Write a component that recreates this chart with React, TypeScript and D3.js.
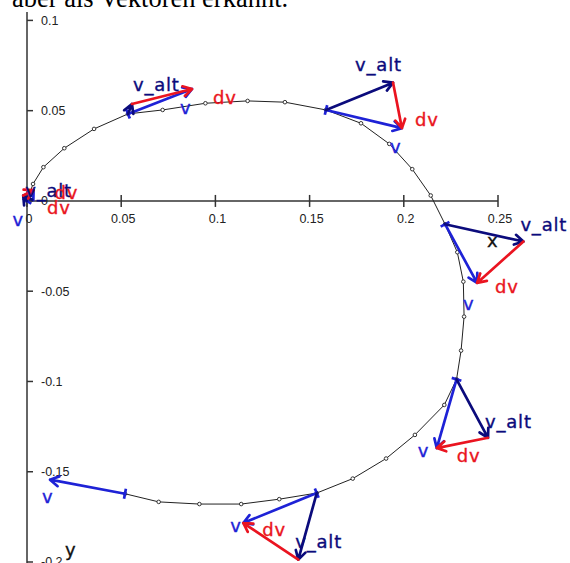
import React from "react";
import * as d3 from "d3";

const W = 570;
const H = 563;

// Sampled positions of the moving point (x, y)
const pathX = [
  0, 0.0032, 0.0087, 0.0198, 0.0356, 0.0536, 0.072, 0.0947, 0.1171, 0.1369,
  0.1587, 0.1773, 0.1923, 0.2045, 0.2143, 0.2219, 0.2284, 0.2316, 0.232, 0.2304,
  0.228, 0.2215, 0.2059, 0.1906, 0.1729, 0.1538, 0.1339, 0.1137, 0.0915, 0.0699,
  0.052,
];
const pathY = [
  0, 0.0094, 0.0187, 0.0292, 0.0399, 0.0482, 0.0504, 0.0541, 0.0554, 0.0547,
  0.0504, 0.043, 0.0316, 0.0176, 0.003, -0.0129, -0.0284, -0.0447, -0.0641, -0.0829,
  -0.0988, -0.113, -0.1296, -0.1427, -0.1538, -0.1618, -0.1652, -0.1679, -0.1679, -0.1667,
  -0.1622,
];

// Points where the velocity vectors are shown
const vectorIndex = [0, 5, 10, 15, 20, 25, 30];
// current velocity v
const vX = [0.0035, 0.034, 0.0403, 0.017, -0.0105, -0.039, -0.0398];
const vY = [0.006, 0.0138, -0.0101, -0.0325, -0.0381, -0.0166, 0.0078];
// previous velocity v_alt (none at the last point)
const vAltX: (number | null)[] = [-0.002, 0.0021, 0.0356, 0.0416, 0.0167, -0.0098, null];
const vAltY: (number | null)[] = [0.003, 0.0055, 0.0151, -0.0096, -0.0324, -0.0369, null];

// Axis ticks
const xTicks = [0, 0.05, 0.1, 0.15, 0.2, 0.25];
const xTickLabels = ["0", "0.05", "0.1", "0.15", "0.2", "0.25"];
const yTicks = [0.1, 0.05, 0, -0.05, -0.1, -0.15, -0.2];
const yTickLabels = ["0.1", "0.05", "0", "-0.05", "-0.1", "-0.15", "-0.2"];

// Label placement (pixel offsets from the arrow tips)
const vLabelOff = [[-21, 36], [-12, 25], [-12, 25], [-14, 27], [-19, 9], [-13, 9], [-8, 23]];
const vAltLabelOff = [[2, 1], [1, -13], [-38, -12], [-3, -11], [-3, -10], [-3, -12], null];
const dvLabelOff = [[21, 9], [21, 15], [13, -2], [18, 10], [20, 14], [19, 13], null];

const BLUE = "#1e22d6";
const NAVY = "#0b0b7c";
const RED = "#ea1420";
const LABEL_FONT = "DejaVu Sans, Verdana, sans-serif";
const TICK_FONT = "Liberation Sans, Arial, sans-serif";

const xScale = d3.scaleLinear().domain([0, 0.25]).range([27, 498]);
const yScale = d3.scaleLinear().domain([-0.2, 0.1]).range([562, 20.4]);

function arrowPath(x1: number, y1: number, x2: number, y2: number, head = 10, spread = 0.52) {
  const a = Math.atan2(y2 - y1, x2 - x1);
  const p = d3.path();
  p.moveTo(x1, y1);
  p.lineTo(x2, y2);
  p.moveTo(x2 - head * Math.cos(a - spread), y2 - head * Math.sin(a - spread));
  p.lineTo(x2, y2);
  p.lineTo(x2 - head * Math.cos(a + spread), y2 - head * Math.sin(a + spread));
  return p.toString();
}

function tailBar(x1: number, y1: number, x2: number, y2: number, half = 5) {
  const a = Math.atan2(y2 - y1, x2 - x1) + Math.PI / 2;
  const p = d3.path();
  p.moveTo(x1 - half * Math.cos(a), y1 - half * Math.sin(a));
  p.lineTo(x1 + half * Math.cos(a), y1 + half * Math.sin(a));
  return p.toString();
}

function Label(props: { x: number; y: number; color: string; text: string; spacing?: number }) {
  return (
    <text
      x={props.x}
      y={props.y}
      fill={props.color}
      stroke={props.color}
      strokeWidth={0.35}
      fontFamily={LABEL_FONT}
      fontSize={18}
      letterSpacing={props.spacing ?? 0.5}
    >
      {props.text}
    </text>
  );
}

export default function App() {
  const pts = pathX.map((x, i) => [xScale(x), yScale(pathY[i])] as [number, number]);
  const line = d3.line<[number, number]>()(pts) || "";

  const groups = vectorIndex.map((idx, k) => {
    const ox = pathX[idx];
    const oy = pathY[idx];
    const px = xScale(ox);
    const py = yScale(oy);
    const vx = xScale(ox + vX[k]);
    const vy = yScale(oy + vY[k]);
    const hasAlt = vAltX[k] !== null && vAltY[k] !== null;
    const ax = hasAlt ? xScale(ox + (vAltX[k] as number)) : 0;
    const ay = hasAlt ? yScale(oy + (vAltY[k] as number)) : 0;
    const vl = vLabelOff[k];
    const al = vAltLabelOff[k];
    const dl = dvLabelOff[k];
    return (
      <g key={k}>
        <path d={arrowPath(px, py, vx, vy)} stroke={BLUE} strokeWidth={2.7} fill="none" strokeLinecap="round" strokeLinejoin="round" />
        <path d={tailBar(px, py, vx, vy)} stroke={BLUE} strokeWidth={2.7} fill="none" />
        {hasAlt && (
          <path d={arrowPath(px, py, ax, ay)} stroke={NAVY} strokeWidth={2.7} fill="none" strokeLinecap="round" strokeLinejoin="round" />
        )}
        {hasAlt && (
          <path d={arrowPath(ax, ay, vx, vy)} stroke={RED} strokeWidth={2.7} fill="none" strokeLinecap="round" strokeLinejoin="round" />
        )}
        <Label x={vx + vl[0]} y={vy + vl[1]} color={BLUE} text="v" />
        {hasAlt && al && <Label x={ax + al[0]} y={ay + al[1]} color={NAVY} text="v_alt" spacing={0.8} />}
        {hasAlt && dl && <Label x={vx + dl[0]} y={vy + dl[1]} color={RED} text="dv" spacing={0.8} />}
      </g>
    );
  });

  const x0 = xScale(0);
  const y0 = yScale(0);

  return (
    <svg width={W} height={H} style={{ position: "absolute", left: 0, top: 0, background: "#fff" }}>
      <text x={12} y={7} fontFamily="Liberation Serif, Times New Roman, serif" fontSize={26.5} fill="#000">
        aber als Vektoren erkannt.
      </text>

      {/* axes */}
      <line x1={x0} x2={x0} y1={12} y2={H} stroke="#333" strokeWidth={1.5} />
      <line x1={x0} x2={xScale(0.25)} y1={y0} y2={y0} stroke="#333" strokeWidth={1.5} />
      {xTicks.map((t, i) => (
        <g key={"xt" + i}>
          <line x1={xScale(t)} x2={xScale(t)} y1={y0 - 6} y2={y0 + 6} stroke="#333" strokeWidth={1.5} />
          <text x={xScale(t) + 2} y={y0 + 22} textAnchor="middle" fontFamily={TICK_FONT} fontSize={12.5} fill="#222">
            {xTickLabels[i]}
          </text>
        </g>
      ))}
      {yTicks.map((t, i) => (
        <g key={"yt" + i}>
          <line x1={x0} x2={x0 + 6} y1={yScale(t)} y2={yScale(t)} stroke="#333" strokeWidth={1.5} />
          <text x={x0 + 14} y={yScale(t)} dy="0.35em" fontFamily={TICK_FONT} fontSize={12.5} fill="#222">
            {yTickLabels[i]}
          </text>
        </g>
      ))}
      <Label x={487} y={247} color="#111" text="x" />
      <Label x={65} y={556} color="#111" text="y" />

      {/* trajectory */}
      <path d={line} fill="none" stroke="#222" strokeWidth={1} />
      {pts.map((p, i) => (
        <circle key={"m" + i} cx={p[0]} cy={p[1]} r={1.8} fill="#fff" stroke="#333" strokeWidth={1} />
      ))}

      {/* velocity vectors */}
      {groups}
      <Label x={x0 + 20} y={y0 + 13} color={RED} text="dv" spacing={0.8} />
    </svg>
  );
}
